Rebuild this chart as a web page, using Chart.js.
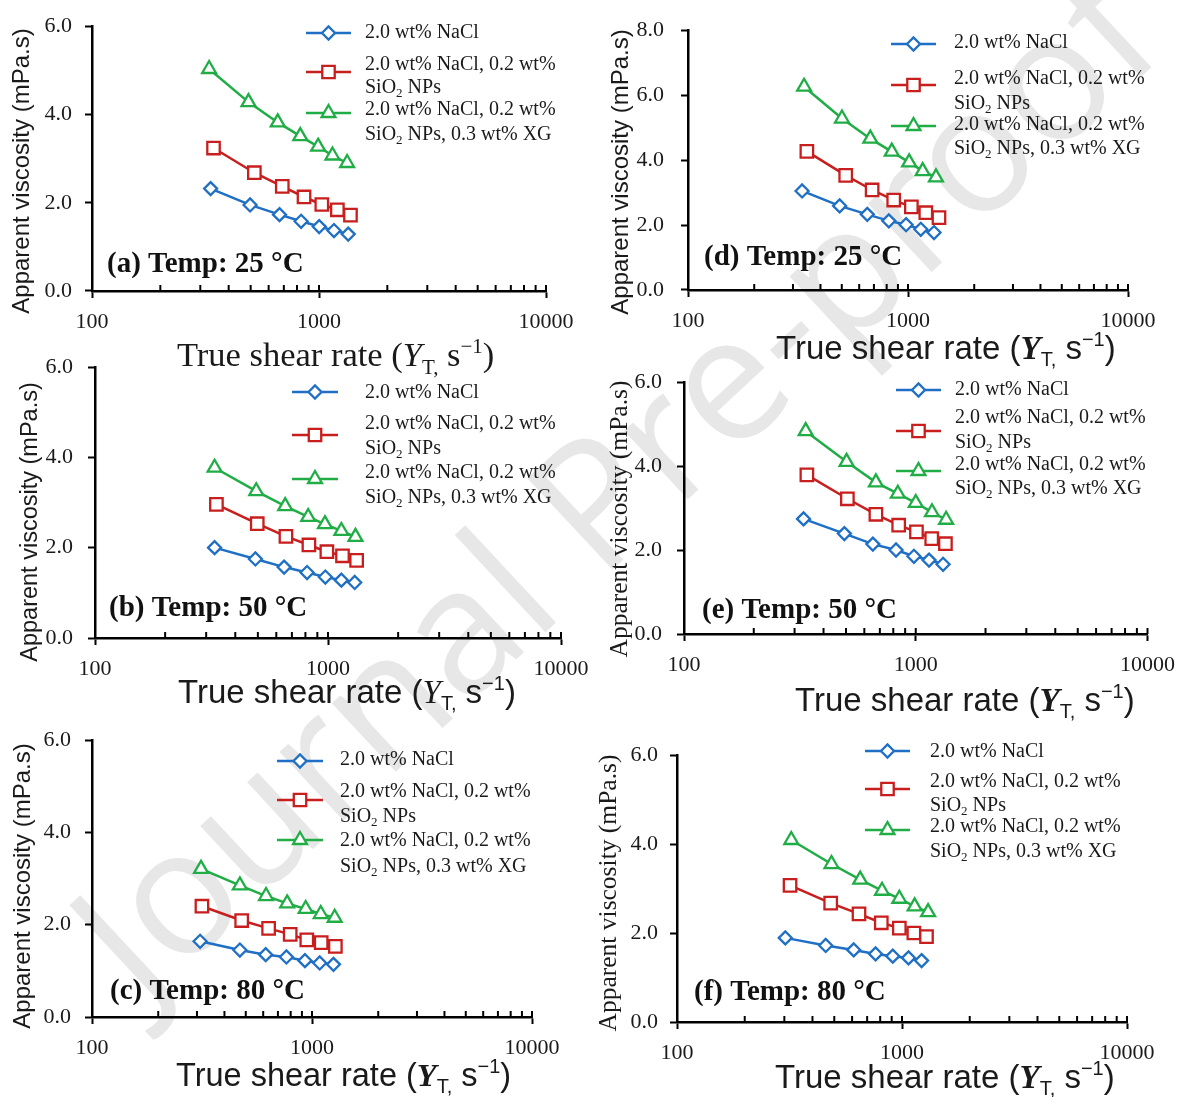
<!DOCTYPE html>
<html lang="en">
<head>
<meta charset="UTF-8">
<title>Apparent viscosity vs true shear rate</title>
<script src="https://cdn.jsdelivr.net/npm/chart.js"></script>
<style>
  body { margin: 0; background: #fff; }
  #page { position: relative; width: 1186px; height: 1097px; overflow: hidden; background: #fff; }
  #page canvas { position: absolute; left: 0; top: 0; }
  #watermark {
    position: absolute; left: -240px; top: 360px; width: 1700px;
    text-align: center; white-space: nowrap; line-height: 1;
    font: 175px "Open Sans", "Liberation Sans", sans-serif;
    color: #e7e7e7; transform: rotate(-43deg);
  }
</style>
</head>
<body>
<div id="page">
  <div id="watermark">Journal Pre-proof</div>
  <canvas id="chartA" width="1186" height="1097"></canvas>
  <canvas id="chartB" width="1186" height="1097"></canvas>
  <canvas id="chartC" width="1186" height="1097"></canvas>
  <canvas id="chartD" width="1186" height="1097"></canvas>
  <canvas id="chartE" width="1186" height="1097"></canvas>
  <canvas id="chartF" width="1186" height="1097"></canvas>
</div>

<script>
// ---- data (true shear rate, 1/s ; apparent viscosity, mPa.s) ----
const aNaclRate = [333, 497, 670, 834, 1002, 1164, 1345];
const aNaclVisc = [2.32, 1.95, 1.73, 1.58, 1.46, 1.37, 1.29];
const aSio2Rate = [343, 519, 689, 859, 1029, 1205, 1376];
const aSio2Visc = [3.24, 2.68, 2.37, 2.13, 1.96, 1.84, 1.72];
const aXgRate = [328, 489, 658, 827, 991, 1146, 1330];
const aXgVisc = [5.03, 4.28, 3.82, 3.51, 3.27, 3.07, 2.90];

const bNaclRate = [326, 488, 648, 813, 974, 1141, 1302];
const bNaclVisc = [2.00, 1.75, 1.57, 1.45, 1.35, 1.28, 1.23];
const bSio2Rate = [332, 497, 660, 828, 989, 1154, 1327];
const bSio2Visc = [2.96, 2.53, 2.25, 2.06, 1.91, 1.82, 1.72];
const bXgRate = [326, 492, 655, 822, 970, 1141, 1312];
const bXgVisc = [3.77, 3.25, 2.92, 2.68, 2.52, 2.37, 2.24];

const cNaclRate = [310, 470, 616, 765, 929, 1084, 1252];
const cNaclVisc = [1.64, 1.45, 1.35, 1.30, 1.22, 1.17, 1.14];
const cSio2Rate = [316, 479, 635, 796, 947, 1101, 1277];
const cSio2Visc = [2.40, 2.09, 1.92, 1.79, 1.67, 1.61, 1.53];
const cXgRate = [313, 470, 618, 771, 936, 1096, 1268];
const cXgVisc = [3.21, 2.85, 2.62, 2.46, 2.34, 2.23, 2.15];

const dNaclRate = [330, 489, 653, 818, 980, 1143, 1313];
const dNaclVisc = [3.05, 2.59, 2.33, 2.13, 2.01, 1.87, 1.77];
const dSio2Rate = [347, 521, 687, 861, 1036, 1205, 1383];
const dSio2Visc = [4.27, 3.53, 3.08, 2.77, 2.56, 2.38, 2.23];
const dXgRate = [337, 501, 674, 844, 1012, 1166, 1340];
const dXgVisc = [6.26, 5.28, 4.66, 4.26, 3.93, 3.66, 3.47];

const eNaclRate = [328, 492, 653, 822, 982, 1141, 1312];
const eNaclVisc = [2.74, 2.39, 2.14, 2.00, 1.85, 1.76, 1.66];
const eSio2Rate = [339, 507, 673, 844, 1007, 1172, 1343];
const eSio2Visc = [3.79, 3.22, 2.85, 2.59, 2.43, 2.27, 2.15];
const eXgRate = [335, 503, 673, 837, 1000, 1175, 1352];
const eXgVisc = [4.83, 4.10, 3.61, 3.34, 3.12, 2.90, 2.72];

const fNaclRate = [303, 458, 610, 763, 910, 1069, 1222];
const fNaclVisc = [1.89, 1.72, 1.62, 1.53, 1.48, 1.44, 1.38];
const fSio2Rate = [318, 482, 644, 809, 973, 1129, 1285];
const fSio2Visc = [3.07, 2.67, 2.43, 2.23, 2.11, 2.00, 1.92];
const fXgRate = [322, 486, 652, 815, 973, 1138, 1306];
const fXgVisc = [4.09, 3.55, 3.20, 2.95, 2.77, 2.60, 2.47];

const seriesNames = ['2.0 wt% NaCl', '2.0 wt% NaCl, 0.2 wt% SiO2 NPs', '2.0 wt% NaCl, 0.2 wt% SiO2 NPs, 0.3 wt% XG'];
const legendLines = ['2.0 wt% NaCl', '2.0 wt% NaCl, 0.2 wt%', 'SiO2 NPs', '2.0 wt% NaCl, 0.2 wt%', 'SiO2 NPs, 0.3 wt% XG'];
const panelLabels = ['(a) Temp: 25 °C', '(b) Temp: 50 °C', '(c) Temp: 80 °C', '(d) Temp: 25 °C', '(e) Temp: 50 °C', '(f) Temp: 80 °C'];
const xTickLabels = ['100', '1000', '10000'];
const yTitle = 'Apparent viscosity (mPa.s)';

// ---- styles ----
const colors = ['#1f6fc5', '#c81e1e', '#20ad45'];
const markers = ['rectRot', 'rect', 'triangle'];
const markerSize = [6.5, 8.8, 8];
const SERIF = '"Liberation Serif", "Times New Roman", serif';
const SANS = '"Liberation Sans", Arial, sans-serif';

// layout of each panel in page pixels (plot area edges)
const panels = [
  { id: 'chartA', L: 92, R: 546, T: 24, B: 291, yMax: 6, yPad: 13,
    data: [[aNaclRate, aNaclVisc], [aSio2Rate, aSio2Visc], [aXgRate, aXgVisc]],
    leg: { x1: 306, x2: 351, rows: [33, 72, 113], tx: 365, ty: [33, 65, 88, 110, 135] },
    label: [107, 265], yt: [22, 171, 24, SANS], xt: [177, 355, 34.5, SERIF, 'italic'] },
  { id: 'chartB', L: 95, R: 561, T: 367, B: 638, yMax: 6, yPad: 15,
    data: [[bNaclRate, bNaclVisc], [bSio2Rate, bSio2Visc], [bXgRate, bXgVisc]],
    leg: { x1: 292, x2: 338, rows: [392, 435, 479], tx: 365, ty: [393, 424, 449, 473, 498] },
    label: [109, 609], yt: [31, 522, 23.5, SANS], xt: [178, 692, 33, SANS, 'italic'] },
  { id: 'chartC', L: 92, R: 532, T: 740, B: 1017, yMax: 6, yPad: 14,
    data: [[cNaclRate, cNaclVisc], [cSio2Rate, cSio2Visc], [cXgRate, cXgVisc]],
    leg: { x1: 277, x2: 323, rows: [761, 800, 840], tx: 340, ty: [760, 792, 817, 841, 867] },
    label: [110, 992], yt: [23, 886, 24, SANS], xt: [176, 1075, 32.5, SANS, 'bold italic'] },
  { id: 'chartD', L: 688, R: 1128, T: 24, B: 290, yMax: 8, yPad: 17,
    data: [[dNaclRate, dNaclVisc], [dSio2Rate, dSio2Visc], [dXgRate, dXgVisc]],
    leg: { x1: 891, x2: 936, rows: [44, 85, 126], tx: 954, ty: [43, 79, 104, 125, 149] },
    label: [704, 258], yt: [621, 172, 24, SANS], xt: [776, 348, 33, SANS, 'bold italic'] },
  { id: 'chartE', L: 684, R: 1150, T: 382, B: 634, yMax: 6, yPad: 15,
    data: [[eNaclRate, eNaclVisc], [eSio2Rate, eSio2Visc], [eXgRate, eXgVisc]],
    leg: { x1: 896, x2: 941, rows: [390, 431, 471], tx: 955, ty: [390, 418, 443, 465, 489] },
    label: [702, 611], yt: [620, 519, 25.5, SERIF], xt: [795, 700, 33, SANS, 'bold italic'] },
  { id: 'chartF', L: 677, R: 1127, T: 755, B: 1022, yMax: 6, yPad: 12,
    data: [[fNaclRate, fNaclVisc], [fSio2Rate, fSio2Visc], [fXgRate, fXgVisc]],
    leg: { x1: 865, x2: 910, rows: [751, 789, 830], tx: 930, ty: [752, 782, 806, 827, 852] },
    label: [694, 993], yt: [609, 893, 25.5, SERIF], xt: [775, 1077, 33, SANS, 'bold italic'] }
];

const isMajor = v => Math.abs(Math.log10(v) - Math.round(Math.log10(v))) < 1e-9;
const logTicks = [];
[100, 1000].forEach(d => { for (let k = 1; k <= 9; k++) logTicks.push(k * d); });
logTicks.push(10000);

const Y_W = 60, X_H = 40;

// text with "SiO2" subscript
function drawChemText(ctx, text, x, y, size) {
  const parts = text.split('SiO2');
  let cx = x;
  parts.forEach((p, i) => {
    ctx.font = size + 'px ' + SERIF;
    ctx.fillText(p, cx, y);
    cx += ctx.measureText(p).width;
    if (i < parts.length - 1) {
      ctx.fillText('SiO', cx, y);
      cx += ctx.measureText('SiO').width;
      ctx.font = Math.round(size * 0.65) + 'px ' + SERIF;
      ctx.fillText('2', cx, y + size * 0.28);
      cx += ctx.measureText('2').width;
    }
  });
}

function drawXTitle(ctx, xt) {
  const [x0, cy, size, fam, gStyle] = xt;
  const base = cy + size * 0.33;
  const small = Math.round(size * 0.6);
  const pieces = [
    { t: 'True shear rate (', f: size + 'px ' + fam, dy: 0 },
    { t: 'Υ', f: gStyle + ' ' + size + 'px ' + SERIF, dy: 0 },
    { t: 'T,', f: small + 'px ' + fam, dy: size * 0.22 },
    { t: ' s', f: size + 'px ' + fam, dy: 0 },
    { t: '−1', f: small + 'px ' + fam, dy: -size * 0.4 },
    { t: ')', f: size + 'px ' + fam, dy: 0 }
  ];
  let x = x0;
  ctx.textAlign = 'left';
  ctx.textBaseline = 'alphabetic';
  pieces.forEach(p => {
    ctx.font = p.f;
    ctx.fillText(p.t, x, base + p.dy);
    x += ctx.measureText(p.t).width;
  });
}

function decor(p) {
  return {
    id: 'decor',
    afterDraw(chart) {
      const ctx = chart.ctx;
      const xs = chart.scales.x;
      const area = chart.chartArea;
      ctx.save();

      // inner tick marks on the log axis
      ctx.strokeStyle = '#000';
      ctx.lineWidth = 2;
      xs.ticks.forEach(t => {
        const px = xs.getPixelForValue(t.value);
        ctx.beginPath();
        ctx.moveTo(px, area.bottom);
        ctx.lineTo(px, area.bottom - 6);
        ctx.stroke();
      });

      // legend
      chart.data.datasets.forEach((ds, i) => {
        const y = p.leg.rows[i];
        ctx.strokeStyle = ds.borderColor;
        ctx.lineWidth = 2.5;
        ctx.beginPath();
        ctx.moveTo(p.leg.x1, y);
        ctx.lineTo(p.leg.x2, y);
        ctx.stroke();
        ctx.fillStyle = '#fff';
        ctx.lineWidth = ds.pointBorderWidth;
        Chart.helpers.drawPoint(ctx, {
          pointStyle: ds.pointStyle, radius: ds.pointRadius,
          borderWidth: ds.pointBorderWidth, rotation: 0
        }, (p.leg.x1 + p.leg.x2) / 2, y);
      });
      ctx.fillStyle = '#1a1a1a';
      ctx.textAlign = 'left';
      ctx.textBaseline = 'middle';
      legendLines.forEach((line, i) => drawChemText(ctx, line, p.leg.tx, p.leg.ty[i], 20));

      // panel label
      ctx.font = 'bold 29px ' + SERIF;
      ctx.fillStyle = '#111';
      ctx.fillText(p.labelText, p.label[0], p.label[1]);

      // y title
      ctx.save();
      ctx.translate(p.yt[0], p.yt[1]);
      ctx.rotate(-Math.PI / 2);
      ctx.textAlign = 'center';
      ctx.font = p.yt[2] + 'px ' + p.yt[3];
      ctx.fillStyle = '#1a1a1a';
      ctx.fillText(yTitle, 0, 0);
      ctx.restore();

      // x title
      ctx.fillStyle = '#1a1a1a';
      drawXTitle(ctx, p.xt);
      ctx.restore();
    }
  };
}

panels.forEach((p, idx) => {
  p.labelText = panelLabels[idx];
  const datasets = p.data.map(([xs, ys], i) => ({
    label: seriesNames[i],
    data: xs.map((x, j) => ({ x: x, y: ys[j] })),
    showLine: true,
    borderColor: colors[i],
    backgroundColor: '#fff',
    borderWidth: 2.5,
    pointStyle: markers[i],
    pointRadius: markerSize[i],
    pointBorderWidth: 2.3,
    pointBackgroundColor: '#fff',
    pointBorderColor: colors[i]
  }));

  new Chart(document.getElementById(p.id), {
    type: 'scatter',
    data: { datasets },
    options: {
      responsive: false,
      animation: false,
      events: [],
      layout: {
        autoPadding: false,
        padding: { left: p.L - Y_W, right: 1186 - p.R, top: p.T, bottom: 1097 - p.B - X_H }
      },
      plugins: { legend: { display: false }, tooltip: { enabled: false } },
      scales: {
        x: {
          type: 'logarithmic',
          min: 100, max: 10000,
          afterBuildTicks: s => { s.ticks = logTicks.map(v => ({ value: v, major: isMajor(v) })); },
          afterFit: s => { s.height = X_H; },
          border: { color: '#000', width: 2.5 },
          grid: {
            drawOnChartArea: false, tickLength: 7, tickWidth: 2,
            tickColor: c => (c.tick && isMajor(c.tick.value)) ? '#000' : 'rgba(0,0,0,0)'
          },
          ticks: {
            autoSkip: false, maxRotation: 0, padding: 11,
            font: { family: SERIF, size: 22 }, color: '#1a1a1a',
            callback: v => isMajor(v) ? xTickLabels[Math.round(Math.log10(v)) - 2] : ''
          }
        },
        y: {
          type: 'linear',
          min: 0, max: p.yMax,
          afterFit: s => { s.width = Y_W; },
          border: { color: '#000', width: 2.5 },
          grid: { drawOnChartArea: false, tickLength: 7, tickWidth: 2, tickColor: '#000' },
          ticks: {
            stepSize: 2, padding: p.yPad,
            font: { family: SERIF, size: 22 }, color: '#1a1a1a',
            callback: v => v.toFixed(1)
          }
        }
      }
    },
    plugins: [decor(p)]
  });
});
</script>
</body>
</html>
